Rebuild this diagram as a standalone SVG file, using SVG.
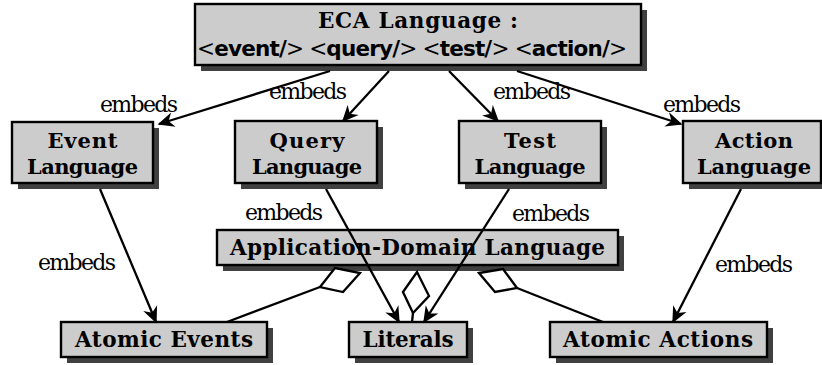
<svg xmlns="http://www.w3.org/2000/svg" width="822" height="365" viewBox="0 0 822 365">
  <defs>
    <style>
      .shadow { fill: #404040; }
      .box { fill: #cccccc; stroke: #000; stroke-width: 2.4; }
      .lbl { font-family: "DejaVu Serif", "Liberation Serif", serif; font-weight: bold; font-size: 21.5px; fill: #000; text-anchor: middle; }
      .two { font-size: 21px; }
      .emb { font-family: "DejaVu Serif", "Liberation Serif", serif; font-size: 22px; fill: #000; }
      .tag { font-family: "DejaVu Sans", "Liberation Sans", sans-serif; font-weight: bold; }
      .br { font-family: "DejaVu Serif", "Liberation Serif", serif; font-weight: normal; }
      .edge { fill: none; stroke: #000; stroke-width: 2.3; }
      .dia { fill: #fff; stroke: #000; stroke-width: 2.3; stroke-linejoin: miter; }
    </style>
    <marker id="stealth" viewBox="-17 -9 19 18" refX="0" refY="0" markerWidth="19" markerHeight="18" markerUnits="userSpaceOnUse" orient="auto">
      <path d="M1.5,0 L-15,-7.5 L-10,0 L-15,7.5 Z" fill="#000"/>
    </marker>
  </defs>

  <rect width="822" height="365" fill="#fff"/>

  <!-- top: ECA language -->
  <g id="eca">
    <rect class="shadow" x="201" y="10" width="446" height="61"/>
    <rect class="box" x="195" y="4" width="446" height="61"/>
    <text class="lbl" x="418" y="28" font-size="22" textLength="200">ECA Language :</text>
    <text x="412" y="56" font-size="21.5" text-anchor="middle" textLength="430"><tspan class="br">&lt;</tspan><tspan class="tag">event/</tspan><tspan class="br">&gt; &lt;</tspan><tspan class="tag">query/</tspan><tspan class="br">&gt; &lt;</tspan><tspan class="tag">test/</tspan><tspan class="br">&gt; &lt;</tspan><tspan class="tag">action/</tspan><tspan class="br">&gt;</tspan></text>
  </g>

  <!-- component languages -->
  <g id="event-language">
    <rect class="shadow" x="18" y="128" width="141" height="61"/>
    <rect class="box" x="12" y="122" width="141" height="61"/>
    <text class="lbl two" x="82.5" y="148" textLength="70">Event</text>
    <text class="lbl two" x="82.5" y="174" textLength="111">Language</text>
  </g>
  <g id="query-language">
    <rect class="shadow" x="241" y="127" width="142" height="62"/>
    <rect class="box" x="235" y="121" width="142" height="62"/>
    <text class="lbl two" x="307" y="148" textLength="75">Query</text>
    <text class="lbl two" x="307" y="174" textLength="110">Language</text>
  </g>
  <g id="test-language">
    <rect class="shadow" x="465" y="127" width="142" height="62"/>
    <rect class="box" x="459" y="121" width="142" height="62"/>
    <text class="lbl two" x="530" y="148" textLength="52">Test</text>
    <text class="lbl two" x="530" y="174" textLength="111">Language</text>
  </g>
  <g id="action-language">
    <rect class="shadow" x="689" y="127" width="138" height="62"/>
    <rect class="box" x="683" y="121" width="138" height="62"/>
    <text class="lbl two" x="754" y="148" textLength="78">Action</text>
    <text class="lbl two" x="754" y="174" textLength="114">Language</text>
  </g>

  <!-- shared domain language -->
  <g id="application-domain-language">
    <rect class="shadow" x="223" y="236" width="401" height="35"/>
    <rect class="box" x="217" y="230" width="401" height="35"/>
    <text class="lbl" x="417.5" y="255" textLength="375">Application-Domain Language</text>
  </g>

  <!-- atomic constructs -->
  <g id="atomic-events">
    <rect class="shadow" x="67" y="328" width="206" height="35"/>
    <rect class="box" x="61" y="322" width="206" height="35"/>
    <text class="lbl" x="164" y="347" textLength="178">Atomic Events</text>
  </g>
  <g id="literals">
    <rect class="shadow" x="355" y="328" width="118" height="35"/>
    <rect class="box" x="349" y="322" width="118" height="35"/>
    <text class="lbl" x="408" y="347" textLength="91">Literals</text>
  </g>
  <g id="atomic-actions">
    <rect class="shadow" x="556" y="328" width="217" height="35"/>
    <rect class="box" x="550" y="322" width="217" height="35"/>
    <text class="lbl" x="658" y="347" textLength="190">Atomic Actions</text>
  </g>

  <!-- connectors -->
  <g id="connectors">
    <line class="edge" x1="330" y1="71" x2="159" y2="124" marker-end="url(#stealth)"/>
    <line class="edge" x1="389" y1="71" x2="343" y2="121" marker-end="url(#stealth)"/>
    <line class="edge" x1="449" y1="71" x2="498" y2="121" marker-end="url(#stealth)"/>
    <line class="edge" x1="517" y1="71" x2="681" y2="124" marker-end="url(#stealth)"/>

    <line class="edge" x1="100" y1="189" x2="156" y2="322" marker-end="url(#stealth)"/>
    <line class="edge" x1="326" y1="189" x2="399" y2="322" marker-end="url(#stealth)"/>
    <line class="edge" x1="509" y1="189" x2="424" y2="322" marker-end="url(#stealth)"/>
    <line class="edge" x1="741" y1="189" x2="673" y2="322" marker-end="url(#stealth)"/>

    <line class="edge" x1="227" y1="322" x2="320" y2="287"/>
    <polygon class="dia" points="320,287 335,268 360,273 343,292"/>
    <line class="edge" x1="413" y1="313" x2="412" y2="322"/>
    <polygon class="dia" points="403,292 417,272 429,296 413,313"/>
    <line class="edge" x1="517" y1="288" x2="603" y2="322"/>
    <polygon class="dia" points="479,273 503,269 517,288 495,292"/>

    <g class="emb">
      <text x="100" y="112" textLength="78">embeds</text>
      <text x="269" y="99" textLength="78">embeds</text>
      <text x="493" y="99" textLength="78">embeds</text>
      <text x="663" y="112" textLength="78">embeds</text>
      <text x="245" y="220" textLength="78">embeds</text>
      <text x="512" y="221" textLength="78">embeds</text>
      <text x="38" y="270" textLength="78">embeds</text>
      <text x="715" y="272" textLength="78">embeds</text>
    </g>
  </g>
</svg>
